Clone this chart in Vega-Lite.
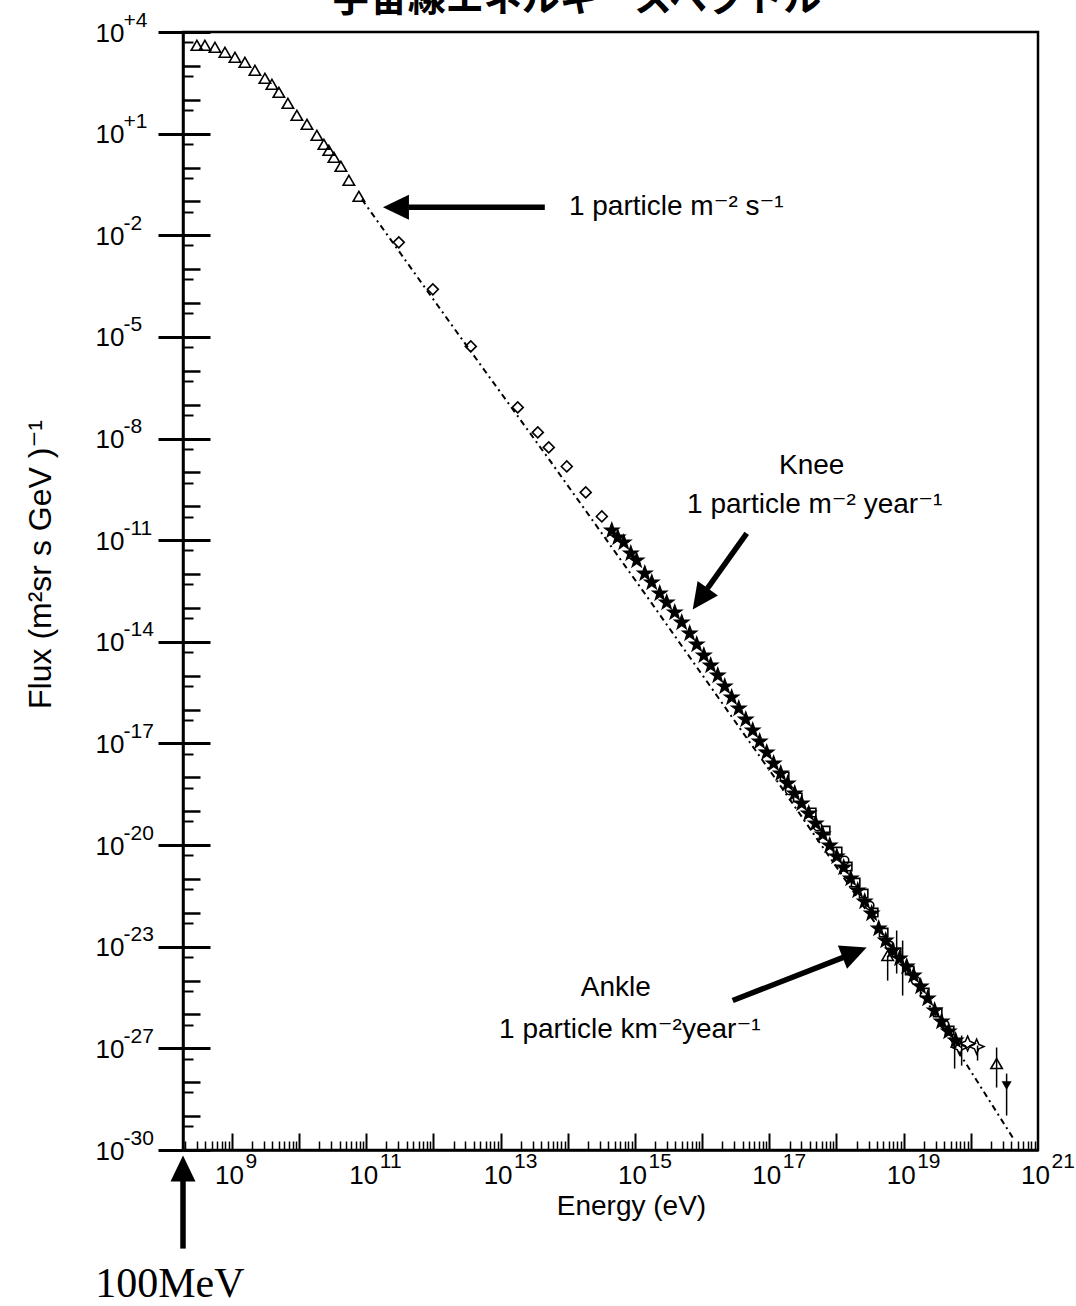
{
  "$schema": "https://vega.github.io/schema/vega-lite/v6.json",
  "width": 855,
  "height": 1118,
  "autosize": {"type": "none"},
  "padding": {"left": 183, "top": 32, "right": 38, "bottom": 156},
  "background": "white",
  "title": {"text": "宇宙線エネルギースペクトル", "font": "Noto Sans CJK JP", "fontSize": 38, "fontWeight": "bold", "color": "black", "anchor": "middle", "frame": "group", "dx": -34, "offset": -40, "baseline": "alphabetic"},
  "config": {
    "view": {"stroke": "black", "strokeWidth": 2.5},
    "axis": {"grid": false, "domainColor": "black", "tickColor": "black", "labelColor": "black", "titleColor": "black", "labelFont": "Liberation Sans, DejaVu Sans", "titleFont": "Liberation Sans, DejaVu Sans", "labelFlush": false, "labelOverlap": false, "labelBound": false, "tickCap": "butt"}
  },
  "datasets": {
    "line": [
      {"E": 8.61e10, "F": 0.115}, {"E": 1.75e12, "F": 2.69e-5}, {"E": 5.40e13, "F": 2.26e-9}, {"E": 1.66e15, "F": 1.66e-13},
      {"E": 1.29e17, "F": 8.07e-19}, {"E": 8.71e18, "F": 4.48e-24}, {"E": 4.49e20, "F": 1.90e-29}
    ],
    "tri": [
      {"E": 3.01e8, "F": 4050}, {"E": 3.96e8, "F": 4050}, {"E": 5.59e8, "F": 3530}, {"E": 7.87e8, "F": 2520},
      {"E": 1.11e9, "F": 1790}, {"E": 1.56e9, "F": 1270}, {"E": 2.20e9, "F": 740}, {"E": 3.10e9, "F": 430},
      {"E": 3.94e9, "F": 286}, {"E": 5.00e9, "F": 166}, {"E": 6.81e9, "F": 78.5}, {"E": 9.27e9, "F": 34.7},
      {"E": 1.31e10, "F": 18.8}, {"E": 1.84e10, "F": 8.91}, {"E": 2.34e10, "F": 4.83}, {"E": 2.77e10, "F": 3.21},
      {"E": 3.30e10, "F": 2.00}, {"E": 4.19e10, "F": 1.08}, {"E": 5.51e10, "F": 0.418}, {"E": 7.76e10, "F": 0.141},
      {"E": 5.78e18, "F": 5.50e-24}, {"E": 2.42e20, "F": 3.56e-27}
    ],
    "dia": [
      {"E": 3.05e11, "F": 6.18e-3}, {"E": 9.80e11, "F": 2.53e-4}, {"E": 3.60e12, "F": 5.25e-6}, {"E": 1.80e13, "F": 8.30e-8},
      {"E": 3.58e13, "F": 1.52e-8}, {"E": 5.21e13, "F": 5.47e-9}, {"E": 9.66e13, "F": 1.50e-9}, {"E": 1.85e14, "F": 2.57e-10},
      {"E": 3.21e14, "F": 5.02e-11}
    ],
    "star": [
      {"E": 4.52e14, "F": 1.94e-11}, {"E": 5.55e14, "F": 1.21e-11}, {"E": 6.81e14, "F": 8.57e-12}, {"E": 8.67e14, "F": 4.06e-12},
      {"E": 1.06e15, "F": 2.52e-12}, {"E": 1.40e15, "F": 1.04e-12}, {"E": 1.78e15, "F": 5.65e-13}, {"E": 2.34e15, "F": 2.68e-13},
      {"E": 2.97e15, "F": 1.45e-13}, {"E": 3.91e15, "F": 7.36e-14}, {"E": 4.97e15, "F": 3.72e-14}, {"E": 6.53e15, "F": 1.77e-14},
      {"E": 8.31e15, "F": 8.36e-15}, {"E": 1.06e16, "F": 3.95e-15}, {"E": 1.34e16, "F": 2.00e-15}, {"E": 1.71e16, "F": 1.02e-15},
      {"E": 2.17e16, "F": 4.81e-16}, {"E": 2.75e16, "F": 2.28e-16}, {"E": 3.51e16, "F": 1.08e-16}, {"E": 4.46e16, "F": 5.10e-17},
      {"E": 5.66e16, "F": 2.42e-17}, {"E": 7.19e16, "F": 1.14e-17}, {"E": 9.15e16, "F": 5.41e-18}, {"E": 1.16e17, "F": 2.56e-18},
      {"E": 1.48e17, "F": 1.30e-18}, {"E": 1.88e17, "F": 6.58e-19}, {"E": 2.39e17, "F": 3.33e-19}, {"E": 3.03e17, "F": 1.69e-19},
      {"E": 3.86e17, "F": 8.55e-20}, {"E": 4.90e17, "F": 4.34e-20}, {"E": 6.24e17, "F": 2.05e-20}, {"E": 7.93e17, "F": 9.72e-21},
      {"E": 1.01e18, "F": 4.60e-21}, {"E": 1.28e18, "F": 2.18e-21}, {"E": 1.63e18, "F": 1.03e-21}, {"E": 2.07e18, "F": 4.56e-22},
      {"E": 2.63e18, "F": 2.16e-22}, {"E": 3.34e18, "F": 9.55e-23}, {"E": 4.25e18, "F": 3.44e-23}, {"E": 5.40e18, "F": 1.52e-23},
      {"E": 6.86e18, "F": 7.71e-24}, {"E": 8.71e18, "F": 4.48e-24}, {"E": 1.11e19, "F": 2.60e-24}, {"E": 1.41e19, "F": 1.41e-24},
      {"E": 1.79e19, "F": 6.68e-25}, {"E": 2.28e19, "F": 2.95e-25}, {"E": 2.89e19, "F": 1.31e-25}, {"E": 3.67e19, "F": 6.18e-26},
      {"E": 4.68e19, "F": 3.13e-26}, {"E": 5.94e19, "F": 1.70e-26}
    ],
    "sq": [
      {"E": 1.69e17, "F": 1.06e-18}, {"E": 2.65e17, "F": 2.54e-19}, {"E": 4.28e17, "F": 9.16e-20}, {"E": 6.90e17, "F": 2.69e-20},
      {"E": 1.04e18, "F": 6.46e-21}, {"E": 1.47e18, "F": 2.33e-21}, {"E": 1.93e18, "F": 7.85e-22}, {"E": 2.54e18, "F": 3.72e-22},
      {"E": 3.58e18, "F": 1.02e-22}, {"E": 5.04e18, "F": 2.62e-23}, {"E": 7.87e18, "F": 6.73e-24}, {"E": 1.23e19, "F": 1.98e-24},
      {"E": 2.06e19, "F": 4.45e-25}, {"E": 3.21e19, "F": 1.14e-25}, {"E": 4.84e19, "F": 3.36e-26}
    ],
    "circ": [
      {"E": 2.01e17, "F": 4.09e-19}, {"E": 5.25e17, "F": 3.54e-20}, {"E": 1.32e18, "F": 3.51e-21}, {"E": 3.12e18, "F": 1.64e-22},
      {"E": 6.19e18, "F": 1.08e-23}, {"E": 1.51e19, "F": 1.00e-24}, {"E": 4.07e19, "F": 5.05e-26}
    ],
    "star4": [
      {"E": 6.81e19, "F": 1.06e-26}, {"E": 8.96e19, "F": 1.39e-26}, {"E": 1.22e20, "F": 1.13e-26}
    ],
    "dtri": [
      {"E": 3.41e20, "F": 7.98e-28}
    ],
    "err": [
      {"E": 5.78e18, "lo": 1.00e-24, "hi": 5.50e-24}, {"E": 7.87e18, "lo": 1.62e-24, "hi": 3.01e-23},
      {"E": 9.66e18, "lo": 3.62e-25, "hi": 1.52e-23}, {"E": 5.74e19, "lo": 2.53e-27, "hi": 1.70e-26},
      {"E": 7.30e19, "lo": 3.10e-27, "hi": 2.39e-26}, {"E": 1.26e20, "lo": 4.36e-27, "hi": 1.21e-26},
      {"E": 2.42e20, "lo": 6.97e-28, "hi": 1.06e-26}, {"E": 3.41e20, "lo": 1.04e-28, "hi": 1.80e-27}
    ],
    "shaft": [
      {"arrow": "particle", "E1": 4.55e13, "F1": 6.67e-2, "E2": 4.30e11, "F2": 6.67e-2},
      {"arrow": "knee", "E1": 4.61e16, "F1": 1.58e-11, "E2": 1.20e16, "F2": 3.8e-13},
      {"arrow": "ankle", "E1": 2.85e16, "F1": 2.58e-25, "E2": 1.35e18, "F2": 5.1e-24},
      {"arrow": "mev", "E1": 1.87e8, "F1": 1.23e-32, "E2": 1.87e8, "F2": 1.5e-30}
    ],
    "head": [
      {"arrow": "particle", "E": 1.77e11, "F": 6.67e-2},
      {"arrow": "knee", "E": 7.24e15, "F": 9.02e-14},
      {"arrow": "ankle", "E": 2.81e18, "F": 9.46e-24},
      {"arrow": "mev", "E": 1.87e8, "F": 6.84e-30}
    ],
    "notes": [
      {"E": 4.12e15, "F": 3.87e-2, "text": "1 particle m⁻² s⁻¹"},
      {"E": 4.28e17, "F": 8.73e-10, "text": "Knee"},
      {"E": 4.74e17, "F": 6.17e-11, "text": "1 particle m⁻² year⁻¹"},
      {"E": 5.18e14, "F": 3.62e-25, "text": "Ankle"},
      {"E": 8.38e14, "F": 2.08e-26, "text": "1 particle km⁻²year⁻¹"}
    ],
    "mev": [
      {"E": 1.19e8, "F": 4.5e-34, "text": "100MeV"}
    ]
  },
  "layer": [
    {
      "data": {"name": "line"},
      "mark": {"type": "line", "stroke": "black", "strokeWidth": 2, "strokeDash": [6, 4, 2, 4]},
      "encoding": {
        "x": {"field": "E", "type": "quantitative", "scale": {"type": "log", "domain": [1.87e8, 1e21], "nice": false}, "axis": null},
        "y": {"field": "F", "type": "quantitative", "scale": {"type": "log", "domain": [1e-29, 1e4], "nice": false}, "axis": null}
      }
    },
    {
      "data": {"name": "tri"},
      "mark": {"type": "point", "shape": "triangle-up", "filled": false, "stroke": "black", "strokeWidth": 1.6, "size": 130, "opacity": 1},
      "encoding": {
        "x": {"field": "E", "type": "quantitative", "scale": {"type": "log", "domain": [1.87e8, 1e21], "nice": false},
          "axis": {"orient": "bottom", "values": [1e9, 1e10, 1e11, 1e12, 1e13, 1e14, 1e15, 1e16, 1e17, 1e18, 1e19, 1e20], "tickSize": -17, "tickWidth": 2, "labels": false, "domain": true, "domainWidth": 2.5,
            "title": "Energy (eV)", "titleFontSize": 28, "titleFontWeight": "normal", "titleX": 448, "titleY": 64, "titleBaseline": "alphabetic", "titleAlign": "center"}},
        "y": {"field": "F", "type": "quantitative", "scale": {"type": "log", "domain": [1e-29, 1e4], "nice": false},
          "axis": {"orient": "left", "values": [1e4, 1e1, 1e-2, 1e-5, 1e-8, 1e-11, 1e-14, 1e-17, 1e-20, 1e-23, 1e-26, 1e-29], "tickSize": 25, "tickWidth": 3, "labels": false, "domain": true, "domainWidth": 2.5,
            "title": "Flux (m²sr s GeV )⁻¹", "titleFontSize": 32, "titleFontWeight": "normal", "titleAngle": 270, "titleX": -133, "titleY": 532, "titleBaseline": "alphabetic", "titleAlign": "center"}}
      }
    },
    {
      "data": {"name": "dia"},
      "mark": {"type": "point", "shape": "diamond", "filled": false, "stroke": "black", "strokeWidth": 1.6, "size": 120, "opacity": 1},
      "encoding": {
        "x": {"field": "E", "type": "quantitative", "scale": {"type": "log", "domain": [1.87e8, 1e21], "nice": false},
          "axis": {"orient": "bottom", "values": [2e8,3e8,4e8,5e8,6e8,7e8,8e8,9e8,2e9,3e9,4e9,5e9,6e9,7e9,8e9,9e9,2e10,3e10,4e10,5e10,6e10,7e10,8e10,9e10,2e11,3e11,4e11,5e11,6e11,7e11,8e11,9e11,2e12,3e12,4e12,5e12,6e12,7e12,8e12,9e12,2e13,3e13,4e13,5e13,6e13,7e13,8e13,9e13,2e14,3e14,4e14,5e14,6e14,7e14,8e14,9e14,2e15,3e15,4e15,5e15,6e15,7e15,8e15,9e15,2e16,3e16,4e16,5e16,6e16,7e16,8e16,9e16,2e17,3e17,4e17,5e17,6e17,7e17,8e17,9e17,2e18,3e18,4e18,5e18,6e18,7e18,8e18,9e18,2e19,3e19,4e19,5e19,6e19,7e19,8e19,9e19,2e20,3e20,4e20,5e20,6e20,7e20,8e20,9e20],
            "tickSize": -9, "tickWidth": 1.5, "labels": false, "domain": false, "title": null}},
        "y": {"field": "F", "type": "quantitative", "scale": {"type": "log", "domain": [1e-29, 1e4], "nice": false},
          "axis": {"orient": "left", "values": [1e4, 1e1, 1e-2, 1e-5, 1e-8, 1e-11, 1e-14, 1e-17, 1e-20, 1e-23, 1e-26, 1e-29], "tickSize": -27, "tickWidth": 3, "labels": false, "domain": false, "title": null}}
      }
    },
    {
      "data": {"name": "star"},
      "mark": {"type": "point", "shape": "M0,-1L0.24,-0.33L0.95,-0.31L0.38,0.12L0.59,0.81L0,0.4L-0.59,0.81L-0.38,0.12L-0.95,-0.31L-0.24,-0.33Z", "filled": true, "fill": "black", "stroke": "black", "strokeWidth": 1.2, "size": 240, "opacity": 1},
      "encoding": {
        "x": {"field": "E", "type": "quantitative", "scale": {"type": "log", "domain": [1.87e8, 1e21], "nice": false},
          "axis": {"orient": "bottom", "values": [1e9, 1e11, 1e13, 1e15, 1e17, 1e19, 1e21], "ticks": false, "domain": false, "title": null, "labelExpr": "'10'", "labelFontSize": 26, "labelAlign": "center", "labelOffset": -3, "labelPadding": 33, "labelBaseline": "alphabetic"}},
        "y": {"field": "F", "type": "quantitative", "scale": {"type": "log", "domain": [1e-29, 1e4], "nice": false},
          "axis": {"orient": "left", "values": [1e3, 1e2, 1, 1e-1, 1e-3, 1e-4, 1e-6, 1e-7, 1e-9, 1e-10, 1e-12, 1e-13, 1e-15, 1e-16, 1e-18, 1e-19, 1e-21, 1e-22, 1e-24, 1e-25, 1e-27, 1e-28], "tickSize": -17, "tickWidth": 2.5, "labels": false, "domain": false, "title": null}}
      }
    },
    {
      "data": {"name": "sq"},
      "mark": {"type": "point", "shape": "square", "filled": false, "stroke": "black", "strokeWidth": 1.6, "size": 70, "opacity": 1},
      "encoding": {
        "x": {"field": "E", "type": "quantitative", "scale": {"type": "log", "domain": [1.87e8, 1e21], "nice": false},
          "axis": {"orient": "bottom", "values": [1e9, 1e11, 1e13, 1e15, 1e17, 1e19, 1e21], "ticks": false, "domain": false, "title": null, "labelExpr": "['9','11','13','15','17','19','21'][(round(log(datum.value)/LN10)-9)/2]", "labelFontSize": 21, "labelAlign": "left", "labelOffset": 13, "labelPadding": 17, "labelBaseline": "alphabetic"}},
        "y": {"field": "F", "type": "quantitative", "scale": {"type": "log", "domain": [1e-29, 1e4], "nice": false},
          "axis": {"orient": "left", "values": [5e3,5e2,50,5,0.5,5e-2,5e-3,5e-4,5e-5,5e-6,5e-7,5e-8,5e-9,5e-10,5e-11,5e-12,5e-13,5e-14,5e-15,5e-16,5e-17,5e-18,5e-19,5e-20,5e-21,5e-22,5e-23,5e-24,5e-25,5e-26,5e-27,5e-28,5e-29], "tickSize": -10, "tickWidth": 2, "labels": false, "domain": false, "title": null}}
      }
    },
    {
      "data": {"name": "circ"},
      "mark": {"type": "point", "shape": "circle", "filled": false, "stroke": "black", "strokeWidth": 1.6, "size": 70, "opacity": 1},
      "encoding": {
        "x": {"field": "E", "type": "quantitative", "scale": {"type": "log", "domain": [1.87e8, 1e21], "nice": false}, "axis": null},
        "y": {"field": "F", "type": "quantitative", "scale": {"type": "log", "domain": [1e-29, 1e4], "nice": false},
          "axis": {"orient": "left", "values": [1e4, 1e1, 1e-2, 1e-5, 1e-8, 1e-11, 1e-14, 1e-17, 1e-20, 1e-23, 1e-26, 1e-29], "ticks": false, "domain": false, "title": null, "labelExpr": "'10'", "labelFontSize": 26, "labelAlign": "right", "labelPadding": 59, "labelBaseline": "alphabetic", "labelOffset": 9}}
      }
    },
    {
      "data": {"name": "star4"},
      "mark": {"type": "point", "shape": "M0,-1L0.3,-0.3L1,0L0.3,0.3L0,1L-0.3,0.3L-1,0L-0.3,-0.3Z", "filled": false, "stroke": "black", "strokeWidth": 1.5, "size": 220, "opacity": 1},
      "encoding": {
        "x": {"field": "E", "type": "quantitative", "scale": {"type": "log", "domain": [1.87e8, 1e21], "nice": false}, "axis": null},
        "y": {"field": "F", "type": "quantitative", "scale": {"type": "log", "domain": [1e-29, 1e4], "nice": false},
          "axis": {"orient": "left", "values": [1e4, 1e1, 1e-2, 1e-5, 1e-8, 1e-11, 1e-14, 1e-17, 1e-20, 1e-23, 1e-26, 1e-29], "ticks": false, "domain": false, "title": null, "labelExpr": "['-30','-27','-23','-20','-17','-14','-11','-8','-5','-2','+1','+4'][(round(log(datum.value)/LN10)+29)/3]", "labelFontSize": 21, "labelAlign": "left", "labelPadding": 60, "labelBaseline": "alphabetic", "labelOffset": -6}}
      }
    },
    {
      "data": {"name": "dtri"},
      "mark": {"type": "point", "shape": "triangle-down", "filled": true, "fill": "black", "size": 100, "opacity": 1},
      "encoding": {
        "x": {"field": "E", "type": "quantitative", "scale": {"type": "log", "domain": [1.87e8, 1e21], "nice": false}, "axis": null},
        "y": {"field": "F", "type": "quantitative", "scale": {"type": "log", "domain": [1e-29, 1e4], "nice": false}, "axis": null}
      }
    },
    {
      "data": {"name": "err"},
      "mark": {"type": "rule", "color": "black", "strokeWidth": 1.5},
      "encoding": {
        "x": {"field": "E", "type": "quantitative", "scale": {"type": "log", "domain": [1.87e8, 1e21], "nice": false}, "axis": null},
        "y": {"field": "lo", "type": "quantitative", "scale": {"type": "log", "domain": [1e-29, 1e4], "nice": false}, "axis": null},
        "y2": {"field": "hi"}
      }
    },
    {
      "data": {"name": "shaft"},
      "mark": {"type": "rule", "color": "black", "strokeWidth": 5.5, "strokeCap": "butt"},
      "encoding": {
        "x": {"field": "E1", "type": "quantitative", "scale": {"type": "log", "domain": [1.87e8, 1e21], "nice": false}, "axis": null},
        "y": {"field": "F1", "type": "quantitative", "scale": {"type": "log", "domain": [1e-29, 1e4], "nice": false}, "axis": null},
        "x2": {"field": "E2"},
        "y2": {"field": "F2"}
      }
    },
    {
      "data": {"name": "head"},
      "transform": [{"filter": "datum.arrow === 'particle'"}],
      "mark": {"type": "point", "shape": "M0,0L2,-0.96L2,0.96Z", "filled": true, "fill": "black", "strokeWidth": 0, "size": 676, "opacity": 1, "angle": 0},
      "encoding": {
        "x": {"field": "E", "type": "quantitative", "scale": {"type": "log", "domain": [1.87e8, 1e21], "nice": false}, "axis": null},
        "y": {"field": "F", "type": "quantitative", "scale": {"type": "log", "domain": [1e-29, 1e4], "nice": false}, "axis": null}
      }
    },
    {
      "data": {"name": "head"},
      "transform": [{"filter": "datum.arrow === 'knee'"}],
      "mark": {"type": "point", "shape": "M0,0L2,-0.96L2,0.96Z", "filled": true, "fill": "black", "strokeWidth": 0, "size": 676, "opacity": 1, "angle": 305.4},
      "encoding": {
        "x": {"field": "E", "type": "quantitative", "scale": {"type": "log", "domain": [1.87e8, 1e21], "nice": false}, "axis": null},
        "y": {"field": "F", "type": "quantitative", "scale": {"type": "log", "domain": [1e-29, 1e4], "nice": false}, "axis": null}
      }
    },
    {
      "data": {"name": "head"},
      "transform": [{"filter": "datum.arrow === 'ankle'"}],
      "mark": {"type": "point", "shape": "M0,0L2,-0.96L2,0.96Z", "filled": true, "fill": "black", "strokeWidth": 0, "size": 676, "opacity": 1, "angle": 158.4},
      "encoding": {
        "x": {"field": "E", "type": "quantitative", "scale": {"type": "log", "domain": [1.87e8, 1e21], "nice": false}, "axis": null},
        "y": {"field": "F", "type": "quantitative", "scale": {"type": "log", "domain": [1e-29, 1e4], "nice": false}, "axis": null}
      }
    },
    {
      "data": {"name": "head"},
      "transform": [{"filter": "datum.arrow === 'mev'"}],
      "mark": {"type": "point", "shape": "M0,0L2,-0.96L2,0.96Z", "filled": true, "fill": "black", "strokeWidth": 0, "size": 676, "opacity": 1, "angle": 90},
      "encoding": {
        "x": {"field": "E", "type": "quantitative", "scale": {"type": "log", "domain": [1.87e8, 1e21], "nice": false}, "axis": null},
        "y": {"field": "F", "type": "quantitative", "scale": {"type": "log", "domain": [1e-29, 1e4], "nice": false}, "axis": null}
      }
    },
    {
      "data": {"name": "notes"},
      "mark": {"type": "text", "font": "Liberation Sans, DejaVu Sans", "fontSize": 28, "align": "center", "baseline": "alphabetic", "color": "black"},
      "encoding": {
        "x": {"field": "E", "type": "quantitative", "scale": {"type": "log", "domain": [1.87e8, 1e21], "nice": false}, "axis": null},
        "y": {"field": "F", "type": "quantitative", "scale": {"type": "log", "domain": [1e-29, 1e4], "nice": false}, "axis": null},
        "text": {"field": "text", "type": "nominal"}
      }
    },
    {
      "data": {"name": "mev"},
      "mark": {"type": "text", "font": "Liberation Serif", "fontSize": 42, "align": "center", "baseline": "alphabetic", "color": "black"},
      "encoding": {
        "x": {"field": "E", "type": "quantitative", "scale": {"type": "log", "domain": [1.87e8, 1e21], "nice": false}, "axis": null},
        "y": {"field": "F", "type": "quantitative", "scale": {"type": "log", "domain": [1e-29, 1e4], "nice": false}, "axis": null},
        "text": {"field": "text", "type": "nominal"}
      }
    }
  ],
  "resolve": {"axis": {"x": "independent", "y": "independent"}}
}
